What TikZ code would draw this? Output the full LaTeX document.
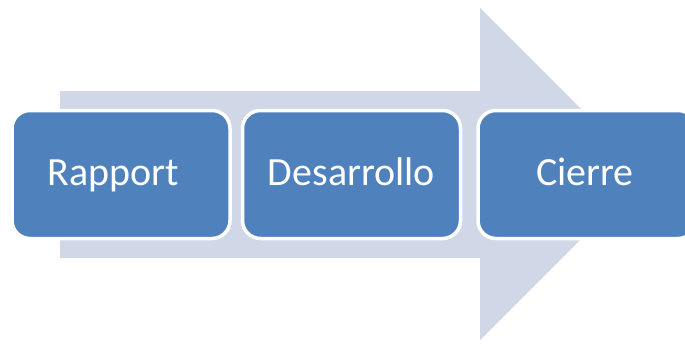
\documentclass[tikz,border=0pt]{standalone}
\usepackage{fontspec}
\setmainfont{Carlito}
\definecolor{boxblue}{HTML}{4F81BD}
\definecolor{arrowgray}{HTML}{D0D8E8}
\tikzset{
  stagebox/.style={draw=white, line width=3.5pt, fill=boxblue, rounded corners=18pt,
    minimum width=218pt, minimum height=128pt, inner sep=0pt, text=white,
    text height=25pt, text depth=3pt,
    font=\fontsize{40pt}{40pt}\selectfont},
}
\begin{document}
\begin{tikzpicture}[x=1pt,y=-1pt]
\useasboundingbox (0,0) rectangle (685,343);
\clip (0,0) rectangle (685,343);
\fill[arrowgray] (60,91) -- (480,91) -- (480,8) -- (646,174) -- (480,340) -- (480,258) -- (60,258) -- cycle;
\node[stagebox] (rapport) at (121,174.5) {Rapport\hspace*{16pt}};
\node[stagebox] (desarrollo) at (351.5,174.5) {Desarrollo};
\node[stagebox] (cierre) at (587,174.5) {Cierre\hspace*{4pt}};
\end{tikzpicture}
\end{document}
